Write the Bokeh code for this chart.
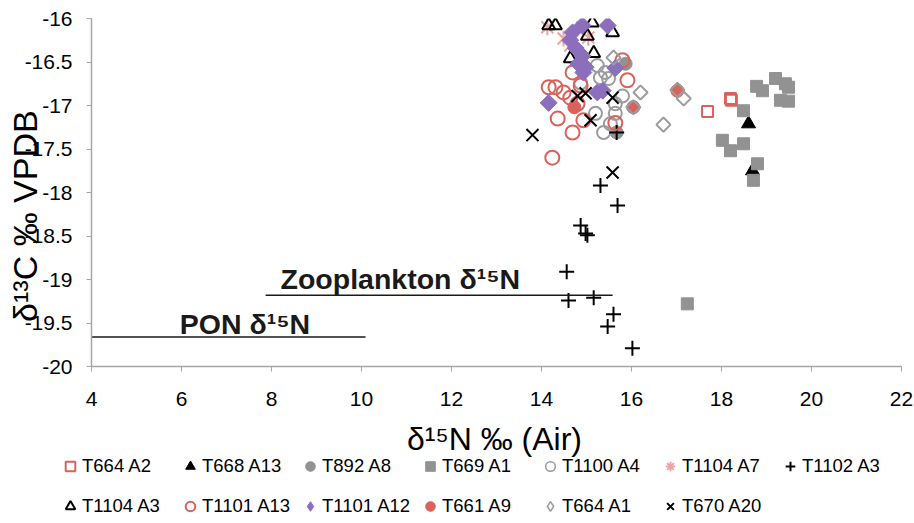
import math
from bokeh.plotting import figure
from bokeh.layouts import column
from bokeh.models import Range1d, FixedTicker, CustomJSTickFormatter, Legend, LegendItem, Label
from bokeh.embed import file_html
from bokeh.resources import INLINE

# ---------------- data (δ15N x, δ13C y) ----------------
t664a2_x = [17.69, 18.20, 18.22]
t664a2_y = [-17.07, -16.92, -16.94]

t668a13_x = [18.60, 18.69]
t668a13_y = [-17.21, -17.75]

t892a8_x = [15.87, 15.67]
t892a8_y = [-16.52, -17.31]

t669a1_x = [18.78, 18.91, 19.20, 19.42, 19.49, 19.31, 19.49, 18.49, 18.02, 18.20, 18.49, 18.80, 18.71, 17.24]
t669a1_y = [-16.78, -16.83, -16.69, -16.75, -16.79, -16.94, -16.95, -17.06, -17.40, -17.52, -17.44, -17.67, -17.86, -19.28]

t1100a4_x = [15.24, 15.42, 15.31, 15.49, 14.87, 15.80, 15.64, 15.20, 15.38, 15.64, 15.53]
t1100a4_y = [-16.54, -16.62, -16.68, -16.69, -16.74, -16.89, -16.98, -17.09, -17.31, -17.09, -17.21]

t1104a7_x = [14.13, 14.49, 14.64, 15.04, 14.91]
t1104a7_y = [-16.10, -16.23, -16.31, -16.22, -16.10]

t1102a3_x = [15.31, 15.69, 14.87, 14.98, 15.02, 14.56, 14.60, 15.16, 15.60, 15.47, 16.02, 15.67]
t1102a3_y = [-17.92, -18.15, -18.38, -18.47, -18.49, -18.91, -19.24, -19.21, -19.40, -19.54, -19.79, -17.31]

t1104a3_x = [14.16, 14.31, 15.13, 15.02, 15.58, 15.16, 14.64]
t1104a3_y = [-16.08, -16.08, -16.05, -16.20, -16.16, -16.40, -16.46]

t1101a13_x = [14.69, 14.16, 14.31, 14.49, 14.64, 14.80, 15.91, 15.80, 14.36, 14.69, 14.93, 15.64, 14.24, 14.87]
t1101a13_y = [-16.62, -16.79, -16.79, -16.85, -16.91, -16.98, -16.71, -16.48, -17.15, -17.31, -17.17, -17.20, -17.60, -16.77]

t1101a12_x = [14.69, 14.91, 15.47, 14.76, 14.91, 14.82, 14.98, 14.93, 15.64, 15.36, 15.24, 14.16, 14.64]
t1101a12_y = [-16.16, -16.08, -16.08, -16.34, -16.43, -16.52, -16.56, -16.62, -16.57, -16.83, -16.85, -16.97, -16.25]

t661a9_x = [14.73, 16.04, 17.02]
t661a9_y = [-17.02, -17.02, -16.83]

t664a1_x = [15.60, 16.20, 16.04, 17.16, 16.71, 17.02]
t664a1_y = [-16.45, -16.85, -17.02, -16.92, -17.22, -16.82]

t670a20_x = [13.80, 14.80, 14.98, 15.58, 15.09, 15.58]
t670a20_y = [-17.34, -16.89, -16.86, -16.91, -17.17, -17.77]

series_names = ["T664 A2", "T668 A13", "T892 A8", "T669 A1", "T1100 A4", "T1104 A7", "T1102 A3",
                "T1104 A3", "T1101 A13", "T1101 A12", "T661 A9", "T664 A1", "T670 A20"]

# reference lines / labels
zoo_line_x = [7.87, 15.58]
zoo_line_y = [-19.18, -19.18]
pon_line_x = [4.0, 10.09]
pon_line_y = [-19.66, -19.66]
zoo_label = "Zooplankton δ¹⁵N"
pon_label = "PON δ¹⁵N"
zoo_label_pos = (8.2, -18.99)
pon_label_pos = (5.96, -19.51)

x_title = "δ¹⁵N ‰ (Air)"
y_title = "δ¹³C ‰ VPDB"

x_ticks = [4, 6, 8, 10, 12, 14, 16, 18, 20, 22]
y_ticks = [-16, -16.5, -17, -17.5, -18, -18.5, -19, -19.5, -20]

# ---------------- styles ----------------
RED = "#d9625c"
PINK = "#efa3a3"
PURPLE = "#8b6fbd"
GRAY = "#929292"
GRAY_L = "#9c9c9c"
BLACK = "#000000"
FONT = "Liberation Sans"

styles = [
    [dict(marker="square", size=11, fill_color=None, line_color=RED, line_width=2)],
    [dict(marker="triangle", size=14, fill_color=BLACK, line_color=BLACK)],
    [dict(marker="circle", size=13, fill_color=GRAY, line_color=GRAY)],
    [dict(marker="square", size=12, fill_color=GRAY, line_color=GRAY)],
    [dict(marker="circle", size=13, fill_color=None, line_color=GRAY_L, line_width=2)],
    [dict(marker="x", size=17, line_color=PINK, line_width=2),
     dict(marker="dash", size=16, angle=math.pi / 2, line_color=PINK, line_width=2)],
    [dict(marker="cross", size=15, line_color=BLACK, line_width=2)],
    [dict(marker="triangle", size=13, fill_color=None, line_color=BLACK, line_width=2)],
    [dict(marker="circle", size=14, fill_color=None, line_color=RED, line_width=2)],
    [dict(marker="square", size=12, angle=math.pi / 4, fill_color=PURPLE, line_color=PURPLE)],
    [dict(marker="circle", size=13, fill_color=RED, line_color=RED)],
    [dict(marker="square", size=10, angle=math.pi / 4, fill_color=None, line_color=GRAY_L, line_width=2)],
    [dict(marker="x", size=17, line_color=BLACK, line_width=2)],
]
# legend swatches (legend glyphs are drawn unrotated, so use equivalent unrotated shapes)
legend_styles = [
    [dict(marker="square", fill_color=None, line_color=RED, line_width=2)],
    [dict(marker="triangle", fill_color=BLACK, line_color=BLACK)],
    [dict(marker="circle", fill_color=GRAY, line_color=GRAY)],
    [dict(marker="square", fill_color=GRAY, line_color=GRAY)],
    [dict(marker="circle", fill_color=None, line_color=GRAY_L, line_width=1.5)],
    [dict(marker="asterisk", line_color=PINK, line_width=2)],
    [dict(marker="cross", line_color=BLACK, line_width=2)],
    [dict(marker="triangle", fill_color=None, line_color=BLACK, line_width=2)],
    [dict(marker="circle", fill_color=None, line_color=RED, line_width=2)],
    [dict(marker="diamond", fill_color=PURPLE, line_color=PURPLE)],
    [dict(marker="circle", fill_color=RED, line_color=RED)],
    [dict(marker="diamond", fill_color=None, line_color=GRAY_L, line_width=1.5)],
    [dict(marker="x", line_color=BLACK, line_width=2)],
]
series_xy = [(t664a2_x, t664a2_y), (t668a13_x, t668a13_y), (t892a8_x, t892a8_y), (t669a1_x, t669a1_y),
             (t1100a4_x, t1100a4_y), (t1104a7_x, t1104a7_y), (t1102a3_x, t1102a3_y), (t1104a3_x, t1104a3_y),
             (t1101a13_x, t1101a13_y), (t1101a12_x, t1101a12_y), (t661a9_x, t661a9_y), (t664a1_x, t664a1_y),
             (t670a20_x, t670a20_y)]

# ---------------- main plot ----------------
MAIN_H = 416
p = figure(width=914, height=MAIN_H, x_range=Range1d(4, 22), y_range=Range1d(-20, -16),
           output_backend="svg", toolbar_location=None,
           min_border_left=91, min_border_right=13, min_border_top=18, min_border_bottom=MAIN_H - 366)
p.outline_line_color = None
p.xgrid.grid_line_color = None
p.ygrid.grid_line_color = None

fmt = CustomJSTickFormatter(code="return String(tick)")
for ax, ticks, nminor in ((p.xaxis[0], x_ticks, 4), (p.yaxis[0], y_ticks, 5)):
    ax.ticker = FixedTicker(ticks=ticks, num_minor_ticks=nminor)
    ax.formatter = fmt
    ax.axis_line_color = "#a6a6a6"
    ax.axis_line_width = 1.5
    ax.major_tick_line_color = "#a6a6a6"
    ax.minor_tick_line_color = "#a6a6a6"
    ax.major_tick_in = 0
    ax.minor_tick_in = 0
    ax.major_tick_out = 5
    ax.minor_tick_out = 3
    ax.major_label_text_font = FONT
    ax.major_label_text_font_size = "21px"
    ax.major_label_text_color = "#000000"
    ax.axis_label_text_font = FONT
    ax.axis_label_text_font_size = "34px"
    ax.axis_label_text_font_style = "normal"
    ax.axis_label_text_color = "#000000"

p.yaxis.axis_label = y_title + "\u00a0" * 5
p.xaxis.major_label_standoff = 20
p.yaxis.major_label_standoff = 14
p.yaxis.axis_label_standoff = -22

for (xs, ys), st in zip(series_xy, styles):
    for s in st:
        p.scatter(xs, ys, **s)

p.line(zoo_line_x, zoo_line_y, line_color="#1a1a1a", line_width=1.5)
p.line(pon_line_x, pon_line_y, line_color="#1a1a1a", line_width=1.5)
p.add_layout(Label(x=zoo_label_pos[0], y=zoo_label_pos[1], text=zoo_label, text_font=FONT, text_font_style="bold",
                   text_font_size="28.5px", text_color="#1a1a1a", text_baseline="alphabetic"))
p.add_layout(Label(x=pon_label_pos[0], y=pon_label_pos[1], text=pon_label, text_font=FONT, text_font_style="bold",
                   text_font_size="28.5px", text_color="#1a1a1a", text_baseline="alphabetic"))

# ---------------- x title + legend strip (own figure, pixel units) ----------------
LG_H = 523 - MAIN_H
lg = figure(width=914, height=LG_H, x_range=Range1d(0, 914), y_range=Range1d(0, LG_H),
            output_backend="svg", toolbar_location=None, min_border=0,
            x_axis_location=None, y_axis_location=None)
lg.xgrid.grid_line_color = None
lg.ygrid.grid_line_color = None
lg.outline_line_color = None
for fig in (p, lg):
    try:
        fig.frame_align = False
    except Exception:
        pass

lg.add_layout(Label(x=494, y=LG_H - 22, text=x_title, text_font=FONT, text_font_size="32px",
                    text_color="#000000", text_align="center", text_baseline="middle"))

nan = float("nan")
legend_items = []
for name, st in zip(series_names, legend_styles):
    rs = [lg.scatter([nan], [nan], **s) for s in st]
    legend_items.append(LegendItem(label=name, renderers=rs))


def make_legend(items, loc):
    return Legend(items=items, orientation="horizontal", location=loc,
                  glyph_width=24, glyph_height=26, label_standoff=0, label_width=96, label_height=26,
                  spacing=0, padding=0, margin=0, background_fill_alpha=0, border_line_color=None,
                  label_text_font=FONT, label_text_font_size="18.5px", label_text_color="#000000")


# row centres at page y ~466 and ~506
lg.add_layout(make_legend(legend_items[:7], (58, LG_H - 63)), "center")
lg.add_layout(make_legend(legend_items[7:], (58, LG_H - 103)), "center")

open("out.html", "w").write(file_html(column(p, lg, spacing=0), INLINE))
